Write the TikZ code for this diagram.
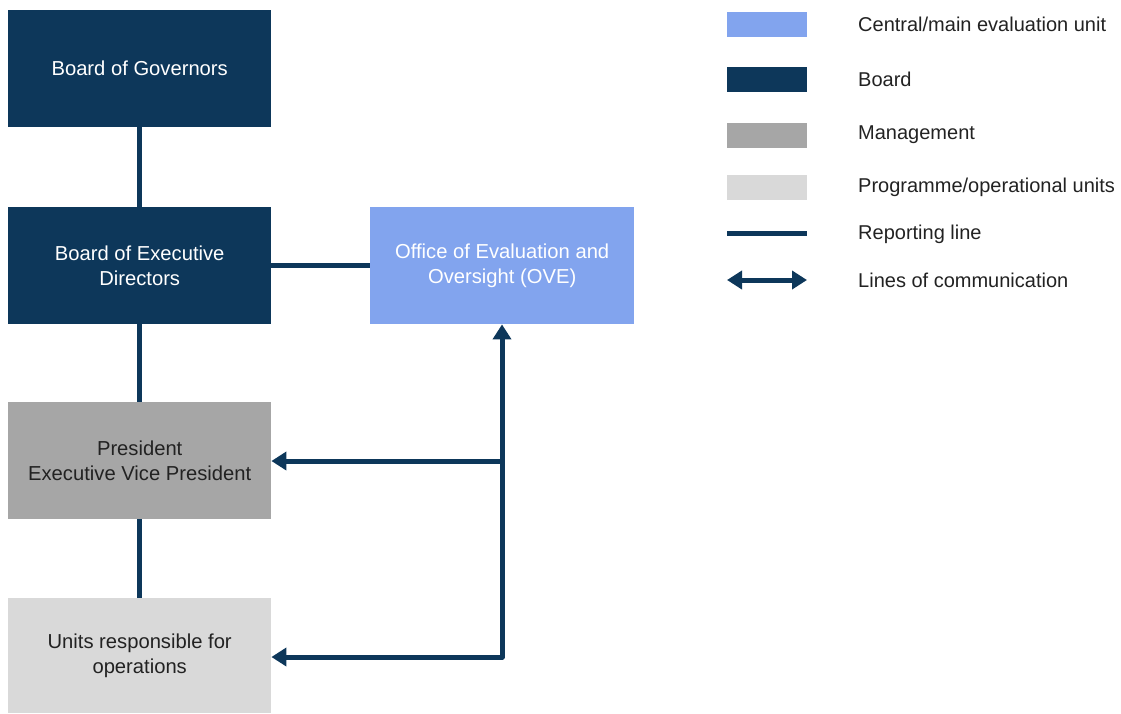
\documentclass[tikz,border=0pt]{standalone}
\usepackage{fontspec}
\setmainfont{Liberation Sans}
\usetikzlibrary{arrows.meta}
\definecolor{navy}{HTML}{0D375A}
\definecolor{ovec}{HTML}{82A4EE}
\definecolor{mgmt}{HTML}{A6A6A6}
\definecolor{ops}{HTML}{D9D9D9}
\definecolor{txt}{HTML}{222222}
\begin{document}
\begin{tikzpicture}[x=1pt,y=-1pt,
  box/.style={minimum width=263pt,minimum height=117pt,inner sep=0pt,anchor=north west,align=center,font=\fontsize{20.2}{24.5}\selectfont},
  rep/.style={draw=navy,line width=5pt},
  comm/.style={draw=navy,line width=5pt,-{Triangle[length=15pt,width=18pt]}},
  sw/.style={minimum width=80pt,minimum height=25pt,inner sep=0pt,anchor=north west},
  lt/.style={anchor=west,inner sep=0pt,text=txt,font=\fontsize{20}{24}\selectfont}]
\useasboundingbox (0,0) rectangle (1121,713);
\node[box,fill=navy,text=white] (bog) at (8,10) {Board of Governors};
\node[box,fill=navy,text=white] (bed) at (8,207) {Board of Executive\\Directors};
\node[box,fill=ovec,text=white,minimum width=264pt] (ove) at (370,207) {Office of Evaluation and\\Oversight (OVE)};
\node[box,fill=mgmt,text=txt] (pres) at (8,402) {President\\Executive Vice President};
\node[box,fill=ops,text=txt,minimum height=115pt] (units) at (8,598) {Units responsible for\\operations};
\draw[rep] (bog.south) -- (bed.north);
\draw[rep] (bed.south) -- (pres.north);
\draw[rep] (pres.south) -- (units.north);
\draw[rep] (bed.east) -- (ove.west);
\coordinate (j1) at (502,461);
\coordinate (j2) at (502,657);
\draw[comm] (j2) -- (ove.south -| j2);
\draw[comm] (j1) -- (j1 -| pres.east);
\draw[comm,line join=round] (j1) -- (j2) -- (j2 -| units.east);
% legend
\node[sw,fill=ovec] (s1) at (727,12) {};
\node[sw,fill=navy] (s2) at (727,67) {};
\node[sw,fill=mgmt] (s3) at (727,123) {};
\node[sw,fill=ops] (s4) at (727,175) {};
\coordinate (l1a) at (727,233);
\coordinate (l1b) at (807,233);
\draw[rep] (l1a) -- (l1b);
\coordinate (l2a) at (727,280);
\coordinate (l2b) at (807,280);
\draw[draw=navy,line width=5pt,{Triangle[length=15pt,width=18pt]}-{Triangle[length=15pt,width=18pt]}] (l2a) -- (l2b);
\node[lt] (t1) at (858,24) {Central/main evaluation unit};
\node[lt] (t2) at (858,79) {Board};
\node[lt] (t3) at (858,135) {Management};
\node[lt] (t4) at (858,187) {Programme/operational units};
\node[lt] (t5) at (858,234) {Reporting line};
\node[lt] (t6) at (858,280) {Lines of communication};
\end{tikzpicture}
\end{document}
